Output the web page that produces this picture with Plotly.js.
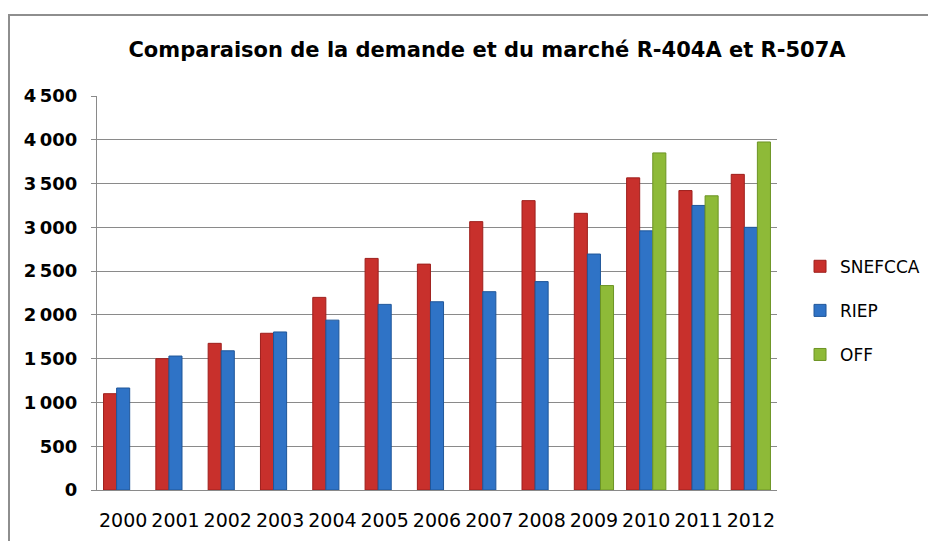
<!DOCTYPE html>
<html>
<head>
<meta charset="utf-8">
<script src="https://cdn.plot.ly/plotly-3.0.1.min.js"></script>
<style>
  html, body { margin: 0; padding: 0; background: #fff; overflow: hidden; }
  #wrap { position: relative; width: 928px; height: 541px; }
  #chart { position: absolute; left: 0; top: 0; width: 928px; height: 541px; }
  #frame { position: absolute; left: 8px; top: 14px; width: 930px; height: 540px;
           border-top: 2px solid #8e8e8e; border-left: 2px solid #8e8e8e; pointer-events: none; }
</style>
</head>
<body>
<div id="wrap">
  <div id="chart"></div>
  <div id="frame"></div>
</div>
<script>
const years = ["2000","2001","2002","2003","2004","2005","2006","2007","2008","2009","2010","2011","2012"];
const snefcca = [1100, 1500, 1675, 1790, 2200, 2645, 2580, 3065, 3305, 3160, 3565, 3420, 3605];
const riep    = [1165, 1530, 1590, 1805, 1940, 2120, 2150, 2265, 2380, 2695, 2960, 3250, 3000];
const off     = [null, null, null, null, null, null, null, null, null, 2335, 3850, 3360, 3975];
const yTickVals = [0, 500, 1000, 1500, 2000, 2500, 3000, 3500, 4000, 4500];
const yTickText = ["0", "500", "1\u2009000", "1\u2009500", "2\u2009000", "2\u2009500", "3\u2009000", "3\u2009500", "4\u2009000", "4\u2009500"];
const titleText = "Comparaison de la demande et du marché R-404A et R-507A";

const traces = [
  { name: "SNEFCCA", y: snefcca, color: "#C8302C", line: "#9E1F1C" },
  { name: "RIEP",    y: riep,    color: "#2F73C6", line: "#1F5699" },
  { name: "OFF",     y: off,     color: "#8EBA38", line: "#6C9424" }
].map((s, i) => ({
  type: "bar",
  name: s.name,
  x: years,
  y: s.y,
  legendgroup: "g" + i,
  marker: { color: s.color, line: { color: s.line, width: 1 } },
  hoverinfo: "x+y+name"
}));

const layout = {
  width: 928,
  height: 541,
  margin: { l: 97, r: 0, t: 96, b: 51 },
  paper_bgcolor: "rgba(0,0,0,0)",
  plot_bgcolor: "#ffffff",
  font: { family: "DejaVu Sans", color: "#000000" },
  title: {
    text: titleText,
    font: { family: "DejaVu Sans", size: 21, color: "#000000", weight: "bold" },
    x: 487 / 928, xref: "container", xanchor: "center",
    y: 1 - 50 / 541, yref: "container", yanchor: "middle"
  },
  barmode: "group",
  bargap: 0.25,
  bargroupgap: 0,
  xaxis: {
    type: "category",
    domain: [0, 680 / 831],
    showgrid: false,
    showline: true,
    linecolor: "#8a8a8a",
    linewidth: 1,
    ticks: "",
    tickangle: 0,
    tickfont: { family: "DejaVu Sans", size: 19, color: "#000000" },
    ticklabelstandoff: 13
  },
  yaxis: {
    range: [0, 4500],
    tickvals: yTickVals,
    ticktext: yTickText,
    showgrid: true,
    gridcolor: "#8a8a8a",
    gridwidth: 1,
    showline: true,
    linecolor: "#8a8a8a",
    linewidth: 1,
    ticks: "outside",
    ticklen: 5,
    tickcolor: "#8a8a8a",
    zeroline: false,
    tickfont: { family: "DejaVu Sans", size: 18, color: "#000000", weight: "bold" },
    ticklabelstandoff: 10
  },
  legend: {
    x: 0.846, xanchor: "left",
    y: 0.455, yanchor: "middle",
    font: { family: "DejaVu Sans", size: 17, color: "#000000" },
    bgcolor: "rgba(0,0,0,0)",
    traceorder: "grouped",
    tracegroupgap: 19,
    itemwidth: 30
  },
  showlegend: true
};

Plotly.newPlot("chart", traces, layout, { displayModeBar: false, staticPlot: true });
</script>
</body>
</html>
